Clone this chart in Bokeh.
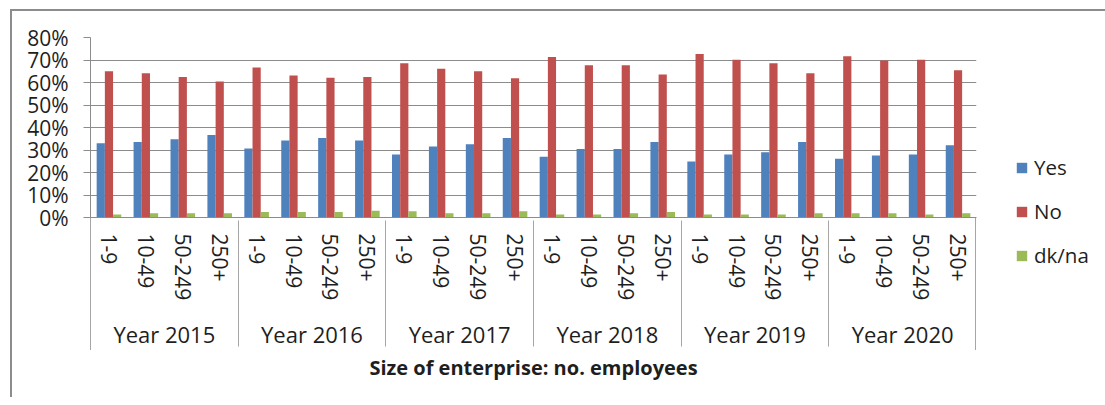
from bokeh.plotting import figure
from bokeh.models import (FactorRange, ColumnDataSource, FixedTicker, NumeralTickFormatter,
                          Legend, LegendItem)
from bokeh.transform import dodge
from bokeh.embed import file_html
from bokeh.resources import INLINE

years = ["Year 2015", "Year 2016", "Year 2017", "Year 2018", "Year 2019", "Year 2020"]
sizes = ["1-9", "10-49", "50-249", "250+"]
series_names = ["Yes", "No", "dk/na"]

yes = [33.0, 33.6, 34.8, 36.7, 30.7, 34.2, 35.3, 34.2, 28.0, 31.6, 32.6, 35.3,
       27.0, 30.5, 30.5, 33.6, 24.9, 28.0, 29.0, 33.6, 26.1, 27.6, 28.0, 32.1]
no = [65.0, 64.1, 62.5, 60.4, 66.7, 63.1, 62.1, 62.5, 68.6, 66.1, 65.0, 61.9,
      71.3, 67.7, 67.7, 63.6, 72.7, 70.1, 68.6, 64.1, 71.7, 69.8, 70.1, 65.5]
dkna = [1.3, 1.9, 1.9, 1.9, 2.4, 2.4, 2.4, 3.0, 2.8, 1.9, 1.9, 2.8,
        1.3, 1.3, 1.9, 2.4, 1.3, 1.3, 1.3, 1.9, 1.9, 1.9, 1.3, 1.9]
y_ticks = [0, 10, 20, 30, 40, 50, 60, 70, 80]

colors = ["#4F81BD", "#C0504D", "#9BBB59"]
FONT = "Open Sans"
TXT = "#1e1e1e"
GRID = "#8c8c8c"
SEP = "#a6a6a6"

factors = [(y, s) for y in years for s in sizes]
source = ColumnDataSource(dict(
    x=factors,
    yes=[v / 100 for v in yes],
    no=[v / 100 for v in no],
    dkna=[v / 100 for v in dkna],
))

x_range = FactorRange(*factors, factor_padding=0, group_padding=0, range_padding=0)

p = figure(x_range=x_range, y_range=(0, y_ticks[-1] / 100),
           frame_width=886, frame_height=180,
           output_backend="svg", toolbar_location=None,
           min_border_left=90, min_border_right=121, min_border_top=37, min_border_bottom=180)
p.outline_line_color = None
p.background_fill_color = "white"
p.border_fill_color = None
# chart-area frame (top and left edges) and the outer edges of the category axis
p.styles = {
    "background": (
        f"linear-gradient({GRID}, {GRID}) 10px 9px / 2px 100% no-repeat, "
        f"linear-gradient({GRID}, {GRID}) 10px 9px / 100% 2px no-repeat, "
        f"linear-gradient({SEP}, {SEP}) 90px 217px / 1px 133px no-repeat, "
        f"linear-gradient({SEP}, {SEP}) 975px 217px / 1px 133px no-repeat, white"
    ),
}

bw = 0.222
renderers = []
for i, (col, c) in enumerate(zip(["yes", "no", "dkna"], colors)):
    r = p.vbar(x=dodge("x", (i - 1) * bw, range=p.x_range), top=col, width=bw,
               source=source, fill_color=c, line_color=None)
    renderers.append(r)

# y axis
p.yaxis.ticker = FixedTicker(ticks=[t / 100 for t in y_ticks])
p.yaxis.formatter = NumeralTickFormatter(format="0%")
p.yaxis.major_tick_in = 0
p.yaxis.major_tick_out = 7
p.yaxis.minor_tick_line_color = None
p.yaxis.major_tick_line_color = GRID
p.yaxis.axis_line_color = GRID
p.yaxis.major_label_text_font = FONT
p.yaxis.major_label_text_font_size = "21px"
p.yaxis.major_label_text_color = TXT
p.yaxis.major_label_standoff = 15

p.ygrid.grid_line_color = GRID
p.xgrid.grid_line_color = None

# x axis
xa = p.xaxis[0]
xa.major_tick_in = 0
xa.major_tick_out = 0
xa.major_tick_line_color = None
xa.axis_line_color = GRID
xa.separator_line_color = SEP
xa.separator_line_width = 1
xa.major_label_orientation = "vertical"
xa.major_label_text_font = FONT
xa.major_label_text_font_size = "21px"
xa.major_label_text_color = TXT
xa.major_label_standoff = 16
xa.group_text_font = FONT
xa.group_text_font_style = "normal"
xa.group_text_font_size = "22px"
xa.group_text_color = TXT
xa.axis_label = "Size of enterprise: no. employees"
xa.axis_label_text_font = FONT
xa.axis_label_text_font_style = "bold"
xa.axis_label_text_font_size = "20px"
xa.axis_label_text_color = TXT
xa.axis_label_standoff = 2

legend = Legend(items=[LegendItem(label=nm, renderers=[r]) for nm, r in zip(series_names, renderers)],
                location=(39, -52), padding=0, margin=0, spacing=16,
                glyph_width=13, glyph_height=13, label_height=28,
                label_text_font=FONT, label_text_font_size="20.5px", label_text_color=TXT,
                label_standoff=6, border_line_color=None, background_fill_alpha=0)
p.add_layout(legend, "right")

open("out.html", "w").write(file_html(p, INLINE))
